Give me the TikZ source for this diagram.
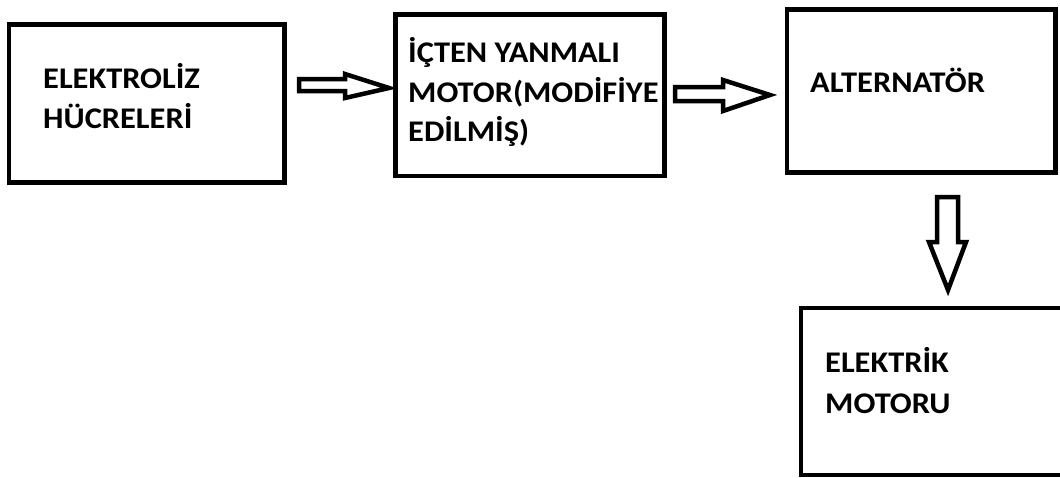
\documentclass[tikz,border=0pt]{standalone}
\usepackage{fontspec}
\newfontfamily\lblfont[FakeStretch=1.08]{Carlito}
\usetikzlibrary{calc}
\begin{document}
\begin{tikzpicture}[x=1pt,y=-1pt,
  box/.style={draw=black,line width=4.5pt,fill=white},
  lbl/.style={font=\lblfont\bfseries\fontsize{30}{40}\selectfont,anchor=base west,inner sep=0pt,align=left},
  blockarrow/.style={draw=black,line width=4.5pt,fill=white,line join=miter}]
\path[use as bounding box,clip] (0,0) rectangle (1060,477);
\fill[white] (0,0) rectangle (1060,477);
% boxes
\path[box] (9,24.5) rectangle (284.5,182.5);
\node[inner sep=0pt,minimum width=275.5pt,minimum height=158pt] (b1) at (146.75,103.5) {};
\path[box] (395.5,14.5) rectangle (664.5,176);
\node[inner sep=0pt,minimum width=269pt,minimum height=161.5pt] (b2) at (530,95.25) {};
\path[box] (787,9.5) rectangle (1055.5,172.5);
\node[inner sep=0pt,minimum width=268.5pt,minimum height=163pt] (b3) at (921.25,91) {};
\path[box] (801,308) rectangle (1066,475);
\node[inner sep=0pt,minimum width=265pt,minimum height=167pt] (b4) at (933.5,391.5) {};
% labels
\node[lbl] (t1a) at (43,88) {ELEKTROLİZ};
\node[lbl] (t1b) at (43,128) {HÜCRELERİ};
\node[lbl] (t2a) at (408,62) {İÇTEN YANMALI};
\node[lbl] (t2b) at (408,102) {MOTOR(MODİFİYE};
\node[lbl] (t2c) at (408,141) {EDİLMİŞ)};
\node[lbl] (t3) at (810,92) {ALTERNATÖR};
\node[lbl] (t4a) at (825,372) {ELEKTRİK};
\node[lbl] (t4b) at (825,413) {MOTORU};
% block arrows
\draw[blockarrow] (299,79) -- (345,79) -- (345,74) -- (389,88) -- (345,98) -- (345,91) -- (299,91) -- cycle;
\draw[blockarrow] (675,87) -- (723,87) -- (723,80) -- (770,95) -- (723,111) -- (723,101) -- (675,101) -- cycle;
\draw[blockarrow] (937,197) -- (958,197) -- (958,242) -- (966,242) -- (948,290) -- (929,242) -- (937,242) -- cycle;
\end{tikzpicture}
\end{document}
